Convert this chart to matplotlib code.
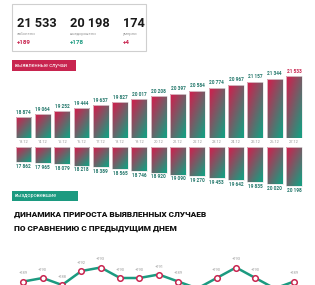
import numpy as np
import matplotlib
matplotlib.use("Agg")
import matplotlib.pyplot as plt
from matplotlib.patches import Rectangle
from matplotlib.colors import LinearSegmentedColormap

# ---------------- data ----------------
dates = ["13.12", "14.12", "15.12", "16.12", "17.12", "18.12", "19.12", "20.12",
         "21.12", "22.12", "23.12", "24.12", "25.12", "26.12", "27.12"]
cases = [18874, 19064, 19252, 19444, 19637, 19827, 20017, 20208,
         20397, 20584, 20774, 20967, 21157, 21344, 21533]
recovered = [17862, 17965, 18079, 18218, 18389, 18565, 18746, 18920,
             19090, 19270, 19453, 19642, 19835, 20020, 20198]
increase = [189, 190, 188, 192, 193, 190, 190, 191, 189, 187, 190, 193, 190, 187, 189]

header_values = ["21 533", "20 198", "174"]
header_labels = ["заболели", "выздоровели", "умерли"]
header_deltas = ["+189", "+178", "+4"]
title_lines = ["ДИНАМИКА ПРИРОСТА ВЫЯВЛЕННЫХ СЛУЧАЕВ", "ПО СРАВНЕНИЮ С ПРЕДЫДУЩИМ ДНЕМ"]

CRIMSON = "#c8244f"
TEAL = "#1c9a80"
DARKTEAL = "#25786c"
GRAY = "#9a9a9a"

W, H = 315, 285
fig = plt.figure(figsize=(W / 100, H / 100), dpi=100)
fig.patch.set_facecolor("white")
plt.rcParams['font.family'] = ['Roboto', 'DejaVu Sans']


def px_axes(x0, y0, x1, y1):
    """axes from pixel box (top-left origin)"""
    return fig.add_axes([x0 / W, 1 - y1 / H, (x1 - x0) / W, (y1 - y0) / H])


def ftxt(x, y, s, **kw):
    return fig.text(x / W, 1 - y / H, s, **kw)


cmap = LinearSegmentedColormap.from_list("g", [CRIMSON, TEAL])
u = np.linspace(0, 1, 64)[None, :]
v = np.linspace(0, 1, 64)[:, None]
grad = np.clip(0.55 * u + 0.65 * (1 - v) - 0.1, 0, 1)


def grad_bar(ax, x, y0, y1, w=0.82):
    rect = Rectangle((x - w / 2, y0), w, y1 - y0, facecolor="none",
                     edgecolor="#e6e6e6", lw=0.5)
    ax.add_patch(rect)
    im = ax.imshow(grad, cmap=cmap, extent=(x - w / 2, x + w / 2, y0, y1),
                   origin="lower", aspect="auto", vmin=0, vmax=1, interpolation="bilinear")
    im.set_clip_path(rect)


def fmt(n):
    return f"{n:,}".replace(",", " ")


n = len(dates)
xs = np.arange(n)
XL, XR = 13.8, 303.7

# ---------------- header box ----------------
fig.patches.append(Rectangle((12 / W, 1 - 51 / H), 134 / W, 47 / H,
                             transform=fig.transFigure, facecolor="white",
                             edgecolor="#cfcfcf", lw=0.8))
hx = [17, 69.5, 122.5]
dcols = [CRIMSON, TEAL, CRIMSON]
for i in range(3):
    ftxt(hx[i], 26.8, header_values[i], fontsize=9.2, fontweight="bold",
         color="#1a1a1a", va="baseline", ha="left")
    ftxt(hx[i], 34, header_labels[i], fontsize=3, color=GRAY, va="center", ha="left")
    ftxt(hx[i], 42.5, header_deltas[i], fontsize=4.5, fontweight="bold",
         color=dcols[i], va="center", ha="left")

# ---------------- section labels ----------------
fig.patches.append(Rectangle((12 / W, 1 - 71 / H), 64 / W, 11 / H,
                             transform=fig.transFigure, facecolor=CRIMSON, lw=0))
ftxt(15, 65.5, "выявленные случаи", fontsize=4, color="white", va="center", ha="left")
fig.patches.append(Rectangle((12 / W, 1 - 201 / H), 66 / W, 10 / H,
                             transform=fig.transFigure, facecolor=TEAL, lw=0))
ftxt(15, 196, "выздоровевшие", fontsize=4, color="white", va="center", ha="left")

# ---------------- top bars (cases) ----------------
base_top = 17512
ax1 = px_axes(XL, 60, XR, 138)
for i, val in enumerate(cases):
    grad_bar(ax1, xs[i], base_top, val)
    ax1.text(xs[i], val + 160, fmt(val), ha="center", va="bottom", fontsize=3.4,
             fontweight="bold", color=CRIMSON if i == n - 1 else DARKTEAL)
ax1.set_xlim(-0.5, n - 0.5)
ax1.set_ylim(base_top, base_top + 78 / 0.01542)
ax1.axis("off")

for i, d in enumerate(dates):
    ax1.annotate(d, (xs[i], base_top), xytext=(0, -4.2), textcoords="offset pixels",
                 ha="center", va="center", fontsize=2.9, color=GRAY)

# ---------------- bottom bars (recovered) ----------------
base_bot = 16400
ax2 = px_axes(XL, 147, XR, 192)
for i, val in enumerate(recovered):
    grad_bar(ax2, xs[i], -(val - base_bot), 0)
    ax2.text(xs[i], -(val - base_bot) - 150, fmt(val), ha="center", va="top",
             fontsize=3.4, fontweight="bold", color=DARKTEAL)
ax2.set_xlim(-0.5, n - 0.5)
ax2.set_ylim(-45 / 0.01027, 0)
ax2.axis("off")

# ---------------- title (fit width of first line to ~193 px) ----------------
title_kw = dict(fontweight="heavy", color="#111111", va="center", ha="left",
                family=["Roboto", "DejaVu Sans"])
t1 = ftxt(13.5, 214, title_lines[0], fontsize=8, **title_kw)
t2 = ftxt(13.5, 229, title_lines[1], fontsize=8, **title_kw)
renderer = fig.canvas.get_renderer()
wpx = t1.get_window_extent(renderer).width
fs = 8 * 193 / wpx
t1.set_fontsize(fs)
t2.set_fontsize(fs)

# ---------------- line chart ----------------
ax3 = px_axes(XL, 250, XR, 285)
ax3.plot(xs, increase, color=TEAL, lw=1.8, zorder=2, clip_on=False)
ax3.plot(xs, increase, ls="none", marker="o", ms=4.0, mfc="white", mec=CRIMSON,
         mew=1.1, zorder=3, clip_on=False)
for i, val in enumerate(increase):
    ax3.annotate(f"+{val}", (xs[i], val), xytext=(0, 6.0), textcoords="offset pixels",
                 ha="center", va="bottom", fontsize=2.9, color=GRAY)
ax3.set_xlim(-0.5, n - 0.5)
ax3.set_ylim(190 - 7 / 3.5, 190 + 28 / 3.5)
ax3.axis("off")

fig.savefig("out.png", dpi=100, facecolor="white")
